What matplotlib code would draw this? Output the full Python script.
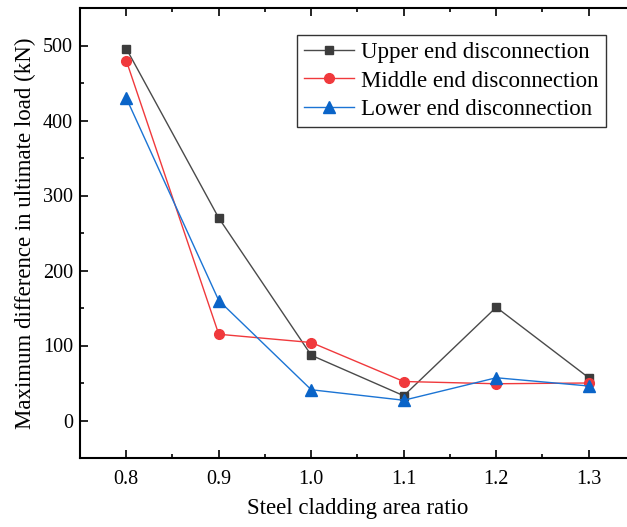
import matplotlib
matplotlib.use("Agg")
import matplotlib.pyplot as plt
from matplotlib.ticker import MultipleLocator

plt.rcParams['font.family'] = ['Liberation Serif', 'DejaVu Serif']
plt.rcParams['mathtext.fontset'] = 'stix'

ratio = [0.8, 0.9, 1.0, 1.1, 1.2, 1.3]
upper = [496, 270, 87, 33, 151, 57]
middle = [480, 115, 104, 52, 49, 50]
lower = [430, 160, 41, 27, 57, 46]
xtick_labels = ["0.8", "0.9", "1.0", "1.1", "1.2", "1.3"]
yticks = [0, 100, 200, 300, 400, 500]

fig = plt.figure(figsize=(6.27, 5.27), dpi=100)
ax = fig.add_axes([80/627, (527-458)/527, 555/627, 450/527])

ax.plot(ratio, upper, color='#4a4a4a', lw=1.0, marker='s', ms=6.2,
        mfc='#3c3c3c', mec='#3c3c3c', label='Upper end disconnection')
ax.plot(ratio, middle, color='#f0393c', lw=1.0, marker='o', ms=7,
        mfc='#f0393c', mec='#f0393c', label='Middle end disconnection')
ax.plot(ratio, lower, color='#1b74d4', lw=1.0, marker='^', ms=8,
        mfc='#0a64c8', mec='#0a64c8', label='Lower end disconnection')

ax.set_xlim(0.75, 1.35)
ax.set_ylim(-50, 550)
ax.set_xticks(ratio)
ax.set_xticklabels(xtick_labels)
ax.set_yticks(yticks)
ax.xaxis.set_minor_locator(MultipleLocator(0.05))
ax.yaxis.set_minor_locator(MultipleLocator(50))
ax.tick_params(which='both', direction='in', top=True, right=True, labelsize=14.5, width=1.2)
ax.tick_params(which='major', length=6)
ax.tick_params(which='minor', length=3)
ax.tick_params(axis='x', pad=9)
ax.tick_params(axis='y', pad=5)
for s in ax.spines.values():
    s.set_linewidth(1.5)

ax.set_xlabel('Steel cladding area ratio', fontsize=16.5, labelpad=6)
ax.set_ylabel('Maximum difference in ultimate load (kN)', fontsize=16.5, labelpad=5)

leg = ax.legend(loc='upper left', bbox_to_anchor=(0.391, 0.94), fontsize=16.5,
                frameon=True, fancybox=False, edgecolor='black', handlelength=2.2,
                handletextpad=0.3, borderpad=0.3, labelspacing=0.33, borderaxespad=0)
leg.get_frame().set_linewidth(1.0)

fig.savefig('out.png', dpi=100)
